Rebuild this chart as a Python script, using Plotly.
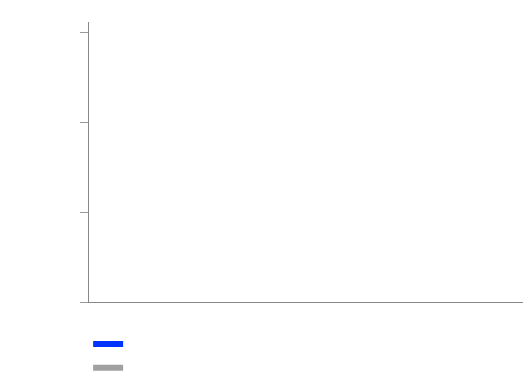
import plotly.graph_objects as go

categories = ["A", "B", "C"]
series_1 = [None, None, None]
series_2 = [None, None, None]
series_names = [" ", " "]
y_ticks = [0, 1, 2, 3]

fig = go.Figure()
fig.add_trace(go.Scatter(x=categories, y=series_1, mode="lines", name=series_names[0],
                         line=dict(color="#0033ff", width=6)))
fig.add_trace(go.Scatter(x=categories, y=series_2, mode="lines", name=series_names[1],
                         line=dict(color="#a0a0a0", width=6)))

fig.update_layout(
    width=524, height=372,
    margin=dict(l=89, r=1, t=22, b=70, autoexpand=False),
    paper_bgcolor="white", plot_bgcolor="white",
    showlegend=True,
    legend=dict(x=-0.002, xanchor="left", xref="paper", y=1 - 327 / 372, yref="container",
                yanchor="top", orientation="v",
                font=dict(size=16), bgcolor="rgba(0,0,0,0)"),
    xaxis=dict(showline=True, linecolor="#888888", linewidth=1, showgrid=False,
               zeroline=False, showticklabels=False, ticks=""),
    yaxis=dict(showline=True, linecolor="#888888", linewidth=1, showgrid=False,
               zeroline=False, showticklabels=False, ticks="outside", ticklen=8,
               tickcolor="#999999", tickvals=y_ticks, range=[0, 3.12]),
)
fig.write_html("out.html")
